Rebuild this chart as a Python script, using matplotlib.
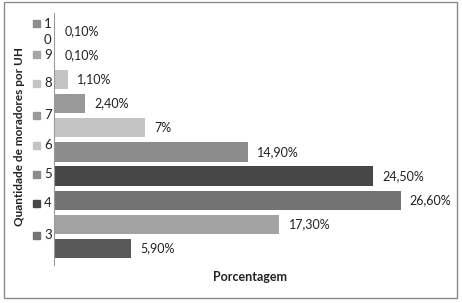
import matplotlib
matplotlib.use("Agg")
import matplotlib.pyplot as plt
from matplotlib.patches import Rectangle

plt.rcParams['font.family'] = ['Lato', 'DejaVu Sans']

# Data
categories = [1, 2, 3, 4, 5, 6, 7, 8, 9, 10]
values = [5.9, 17.3, 26.6, 24.5, 14.9, 7.0, 2.4, 1.1, 0.1, 0.1]
value_labels = ["5,90%", "17,30%", "26,60%", "24,50%", "14,90%", "7%",
                "2,40%", "1,10%", "0,10%", "0,10%"]
bar_colors = ["#595959", "#a3a3a3", "#737373", "#474747", "#8c8c8c",
              "#c4c4c4", "#999999", "#c4c4c4", "#a6a6a6", "#8c8c8c"]
legend_labels = ["1\n0", "9", "8", "7", "6", "5", "4", "3"]
legend_colors = ["#8c8c8c", "#a6a6a6", "#c4c4c4", "#999999",
                 "#c4c4c4", "#8c8c8c", "#474747", "#737373"]
legend_y_px = [23, 55, 83, 115, 145, 174, 203, 235]

W, H = 462, 303
fig = plt.figure(figsize=(W / 100, H / 100), dpi=100)
ax = fig.add_axes([54 / W, 1 - 265 / H, (445 - 54) / W, (265 - 13) / H])

pos = list(range(len(categories)))
ax.barh(pos, values, height=0.8, color=bar_colors)
for p, v, lab in zip(pos, values, value_labels):
    ax.annotate(lab, (v, p), xytext=(6.5, 0), textcoords="offset points",
                va="center", ha="left", fontsize=9, color="#222222")

ax.set_xlim(0, 30)
ax.set_ylim(-0.68, 9.745)
for s in ["top", "right", "bottom"]:
    ax.spines[s].set_visible(False)
ax.spines["left"].set_color("#9a9a9a")
ax.set_xticks([])
ax.set_yticks([])

# Legend (manual, left side)
for lab, col, ypx in zip(legend_labels, legend_colors, legend_y_px):
    fig.patches.append(Rectangle((33 / W, 1 - (ypx + 3.5) / H), 7 / W, 7 / H,
                                 transform=fig.transFigure, color=col))
    if "\n" in lab:
        fig.text(44 / W, 1 - (ypx - 5) / H, lab, fontsize=9.5, va="top",
                 ha="left", color="#222222", linespacing=1.45)
    else:
        fig.text(44 / W, 1 - ypx / H, lab, fontsize=9.5, va="center",
                 ha="left", color="#222222")

# Axis titles
fig.text(20 / W, 1 - 136 / H, "Quantidade de moradores por UH", rotation=90,
         fontsize=8.5, fontweight="bold", ha="center", va="center", color="#222222")
fig.text(250 / W, 1 - 277 / H, "Porcentagem", fontsize=9, fontweight="bold",
         ha="center", va="center", color="#222222")

# Outer frame
fig.patches.append(Rectangle((4 / W, 1 - 298 / H), 453 / W, 296 / H,
                             transform=fig.transFigure, fill=False,
                             edgecolor="#8a8a8a", linewidth=1))

fig.savefig("out.png", dpi=100)
